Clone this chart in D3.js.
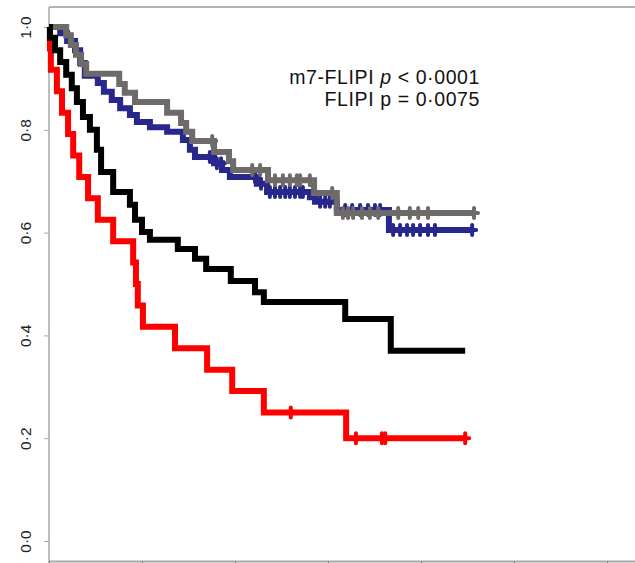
<!DOCTYPE html>
<html>
<head>
<meta charset="utf-8">
<script src="https://cdn.jsdelivr.net/npm/d3@7"></script>
<style>
  body { margin: 0; background: #fff; }
  svg { display: block; }
</style>
</head>
<body>
<div class="chart"></div>
<script>
// Kaplan-Meier estimates (time in years)
const yTicks = [0, 0.2, 0.4, 0.6, 0.8, 1.0];
const xTicks = [0, 2, 4, 6, 8, 10, 12];

const redTimes = [0.02, 0.04, 0.17, 0.28, 0.41, 0.52, 0.65, 0.84, 1.05, 1.38, 1.81, 1.87, 1.91, 2.02, 2.71, 3.40, 3.94, 4.62, 6.39];
const redSurv  = [0.958, 0.917, 0.875, 0.833, 0.792, 0.750, 0.708, 0.667, 0.625, 0.583, 0.542, 0.500, 0.458, 0.417, 0.375, 0.333, 0.292, 0.250, 0.200];
const redCensor = [5.20, 6.60, 7.16, 7.23, 8.95];

const blackTimes = [0.02, 0.13, 0.24, 0.37, 0.49, 0.60, 0.73, 0.88, 1.03, 1.12, 1.38, 1.74, 1.85, 2.00, 2.17, 2.77, 3.14, 3.38, 3.91, 4.43, 4.62, 6.37, 7.35];
const blackSurv  = [0.979, 0.955, 0.932, 0.907, 0.881, 0.854, 0.825, 0.800, 0.761, 0.718, 0.679, 0.654, 0.625, 0.601, 0.586, 0.568, 0.549, 0.529, 0.506, 0.484, 0.465, 0.432, 0.370];
const blackCensor = [];
const blackEnd = 8.95;

const blueTimes = [0.24, 0.39, 0.56, 0.67, 0.77, 1.05, 1.18, 1.35, 1.53, 1.74, 1.89, 2.17, 2.54, 2.88, 3.03, 3.14, 3.55, 3.72, 3.89, 4.47, 4.69, 5.61, 5.72, 6.19, 7.31];
const blueSurv  = [0.988, 0.973, 0.955, 0.930, 0.905, 0.891, 0.874, 0.858, 0.842, 0.829, 0.815, 0.805, 0.796, 0.780, 0.761, 0.747, 0.735, 0.722, 0.708, 0.695, 0.679, 0.669, 0.660, 0.644, 0.605];
const blueCensor = [3.46, 3.61, 3.70, 4.43, 4.56, 4.75, 4.86, 4.97, 5.08, 5.18, 5.29, 5.40, 5.46, 5.83, 5.94, 6.04, 6.37, 6.52, 6.69, 6.86, 7.01, 7.12, 7.40, 7.55, 7.70, 7.83, 7.98, 8.15, 8.30, 9.10];

const greyTimes = [0.37, 0.47, 0.58, 0.69, 0.80, 1.51, 1.63, 1.85, 2.54, 2.84, 2.95, 3.08, 3.55, 3.87, 3.96, 4.71, 5.70, 6.19];
const greySurv  = [0.984, 0.965, 0.946, 0.928, 0.909, 0.889, 0.872, 0.854, 0.833, 0.813, 0.796, 0.778, 0.757, 0.739, 0.722, 0.702, 0.677, 0.638];
const greyCensor = [3.51, 4.37, 4.54, 4.86, 5.03, 5.18, 5.33, 5.40, 5.61, 6.09, 6.32, 6.43, 6.54, 6.73, 6.90, 7.08, 7.51, 7.76, 7.94, 8.15, 9.14];

const groups = [
  { name: 'blue',  color: '#27278c', times: blueTimes,  surv: blueSurv,  censor: blueCensor,  end: 0 },
  { name: 'grey',  color: '#6f6a6a', times: greyTimes,  surv: greySurv,  censor: greyCensor,  end: 0 },
  { name: 'red',   color: '#ff0000', times: redTimes,   surv: redSurv,   censor: redCensor,   end: 0 },
  { name: 'black', color: '#000000', times: blackTimes, surv: blackSurv, censor: blackCensor, end: blackEnd }
];

const width = 635, height = 563;

const svg = d3.select('.chart').append('svg')
  .attr('width', width)
  .attr('height', height);

const x = d3.scaleLinear().domain([0, 12]).range([49, 607]);
const y = d3.scaleLinear().domain([0, 1]).range([541, 27]);

// frame
svg.append('line')
  .attr('x1', 49).attr('x2', width)
  .attr('y1', 7).attr('y2', 7)
  .attr('stroke', '#9a9a9a').attr('stroke-width', 1.5);

svg.append('line')
  .attr('x1', 49).attr('x2', 49)
  .attr('y1', 7).attr('y2', height)
  .attr('stroke', '#a8a8a8').attr('stroke-width', 1.5);

svg.append('line')
  .attr('x1', 49).attr('x2', width)
  .attr('y1', 561.5).attr('y2', 561.5)
  .attr('stroke', '#a8a8a8').attr('stroke-width', 2);

const yAxis = svg.append('g')
  .attr('transform', 'translate(49,0)')
  .call(d3.axisLeft(y)
        .tickValues(yTicks)
        .tickSize(5)
        .tickPadding(0)
        .tickFormat(d => d3.format('.1f')(d).replace('.', '·'))
  );
yAxis.select('.domain').remove();
yAxis.selectAll('.tick line').attr('stroke', '#a8a8a8').attr('stroke-width', 1);
yAxis.selectAll('.tick text')
  .attr('x', 0).attr('dy', null)
  .attr('transform', 'translate(-22,0) rotate(-90)')
  .attr('text-anchor', 'middle')
  .attr('dominant-baseline', 'middle')
  .style('font-family', '"Liberation Sans", Arial, sans-serif')
  .style('font-size', '15.5px')
  .attr('fill', '#222');

const xAxis = svg.append('g')
  .attr('transform', 'translate(0,561)')
  .call(d3.axisBottom(x).tickValues(xTicks).tickSize(6).tickFormat(''));
xAxis.select('.domain').remove();
xAxis.selectAll('.tick line').attr('stroke', '#888');

// survival value at time t for a group (step function)
function survAt(g, t) {
  let s = 1;
  g.times.forEach((tt, i) => { if (tt <= t) s = g.surv[i]; });
  return s;
}

const line = d3.line()
  .x(d => x(d[0]))
  .y(d => y(d[1]))
  .curve(d3.curveStepAfter);

groups.forEach(g => {
  const last = d3.max([d3.max(g.times), d3.max(g.censor) || 0, g.end]);
  const pts = [[0, 1]].concat(g.times.map((t, i) => [t, g.surv[i]]));
  pts.push([last, survAt(g, last)]);

  svg.append('path')
    .datum(pts)
    .attr('d', line)
    .attr('fill', 'none')
    .attr('stroke', g.color)
    .attr('stroke-width', 6)
    .attr('stroke-linejoin', 'miter');

  svg.selectAll('.cens-' + g.name)
    .data(g.censor)
    .enter().append('path')
    .attr('class', 'cens-' + g.name)
    .attr('d', t => {
      const cx = x(t), cy = y(survAt(g, t));
      return `M${cx - 4},${cy}H${cx + 4}M${cx},${cy - 5}V${cy + 5}`;
    })
    .attr('stroke', g.color)
    .attr('stroke-width', 4)
    .attr('stroke-linecap', 'round');
});

// p-value annotation
const noteFont = '"Liberation Sans", Arial, sans-serif';

const note = svg.append('text')
  .attr('x', 480).attr('y', 84)
  .attr('text-anchor', 'end')
  .style('font-family', noteFont)
  .style('font-size', '19.5px')
  .style('letter-spacing', '0.6px')
  .attr('fill', '#111');
note.append('tspan').text('m7-FLIPI ');
note.append('tspan').style('font-style', 'italic').text('p');
note.append('tspan').text(' < 0·0001');

svg.append('text')
  .attr('x', 480).attr('y', 106)
  .attr('text-anchor', 'end')
  .style('font-family', noteFont)
  .style('font-size', '19.5px')
  .style('letter-spacing', '0.6px')
  .attr('fill', '#111')
  .text('FLIPI p = 0·0075');
</script>
</body>
</html>
